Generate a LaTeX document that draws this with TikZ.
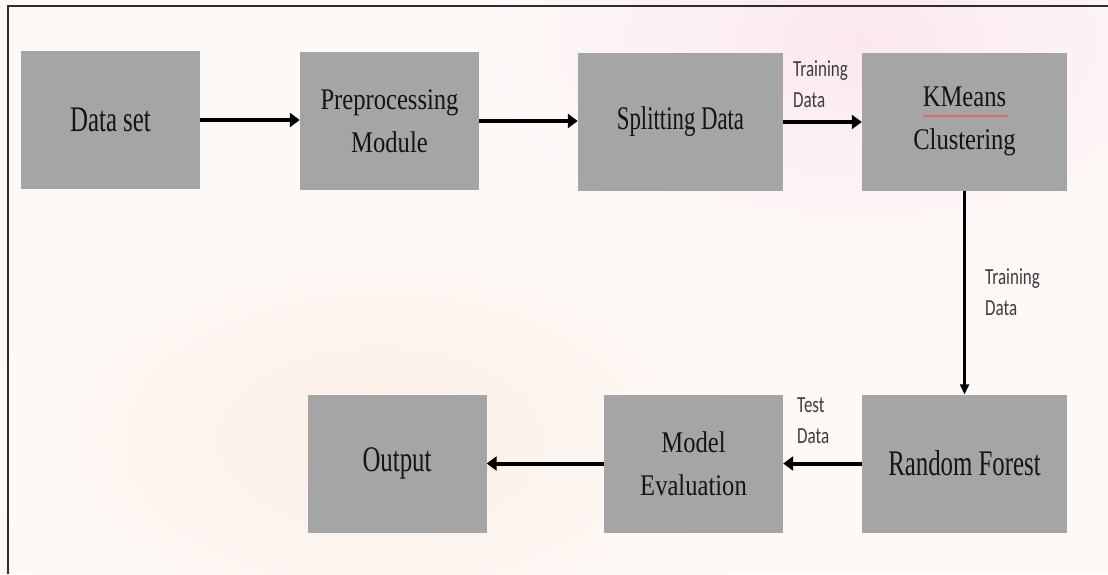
\documentclass[tikz,border=0pt]{standalone}
\usepackage{fontspec}
\setmainfont{Liberation Serif}
\newfontfamily\boxfontA[FakeStretch=0.69]{Liberation Serif}
\newfontfamily\boxfontB[FakeStretch=0.82]{Liberation Serif}
\newfontfamily\labfont[FakeStretch=0.74]{Carlito}
\usetikzlibrary{arrows.meta,decorations.pathmorphing}
\definecolor{boxgray}{RGB}{165,165,165}
\definecolor{bgbase}{RGB}{253,249,247}
\definecolor{pinkglow}{RGB}{251,232,238}
\definecolor{peachglow}{RGB}{252,240,231}
\definecolor{framegray}{RGB}{45,45,45}
\definecolor{labgray}{RGB}{60,60,60}
\definecolor{txt}{RGB}{20,20,20}
\begin{document}
\begin{tikzpicture}[x=1pt,y=-1pt,
  box/.style={fill=boxgray, draw=none, inner sep=0pt, text=txt, align=center, minimum height=138pt},
  narrowbox/.style={box, minimum width=179pt},
  widebox/.style={box, minimum width=205pt},
  onel/.style={font=\boxfontA\fontsize{36}{43}\selectfont},
  twol/.style={font=\boxfontB\fontsize{30}{43}\selectfont},
  lab/.style={font=\labfont\fontsize{23}{31}\selectfont, text=labgray, align=left, inner sep=0pt},
  harrow/.style={draw=black, line width=4pt, -{Triangle[length=10pt,width=14pt]}},
  varrow/.style={draw=black, line width=2.2pt, -{Triangle[length=10pt,width=9pt]}}]
\useasboundingbox (0,0) rectangle (1108,574);
\fill[bgbase] (0,0) rectangle (1108,574);
\begin{scope}
\clip (0,0) rectangle (1108,574);
\shade[inner color=pinkglow, outer color=bgbase] (860,40) ellipse [x radius=380, y radius=220];
\shade[inner color=peachglow, outer color=bgbase] (380,440) ellipse [x radius=420, y radius=240];
\end{scope}
\draw[framegray, line width=1.5pt] (8,574) -- (8,6) -- (1108,6);

\node[narrowbox, onel] (ds) at (110.5,120) {Data set};
\node[narrowbox, twol] (pp) at (389.5,121) {Preprocessing\\Module};
\node[widebox, onel, font=\boxfontA\fontsize{33}{43}\selectfont] (sp) at (680.5,122) {Splitting Data};
\node[widebox, twol] (km) at (964.5,121.5) {KMeans\\Clustering};
\node[widebox, onel] (rf) at (964.5,463.5) {Random Forest};
\node[narrowbox, twol] (me) at (693.5,463.5) {Model\\Evaluation};
\node[narrowbox, onel] (out) at (397,463.5) {Output};

\draw[red!75, line width=0.8pt, decorate, decoration={snake, amplitude=0.7pt, segment length=4pt}] (923,116) -- (1008,116);

\draw[harrow] (ds.east) -- (ds.east -| pp.west);
\draw[harrow] (pp.east) -- (pp.east -| sp.west);
\draw[harrow] (sp.east) -- (sp.east -| km.west);
\draw[varrow] (km.south) -- (rf.north);
\draw[harrow] (rf.west) -- (me.east);
\draw[harrow] (me.west) -- (out.east);

\node[lab, anchor=north west] (l1) at (793,60) {Training\\Data};
\node[lab, anchor=north west] (l2) at (985,268) {Training\\Data};
\node[lab, anchor=north west] (l3) at (797,398) {Test\\Data};
\end{tikzpicture}
\end{document}
